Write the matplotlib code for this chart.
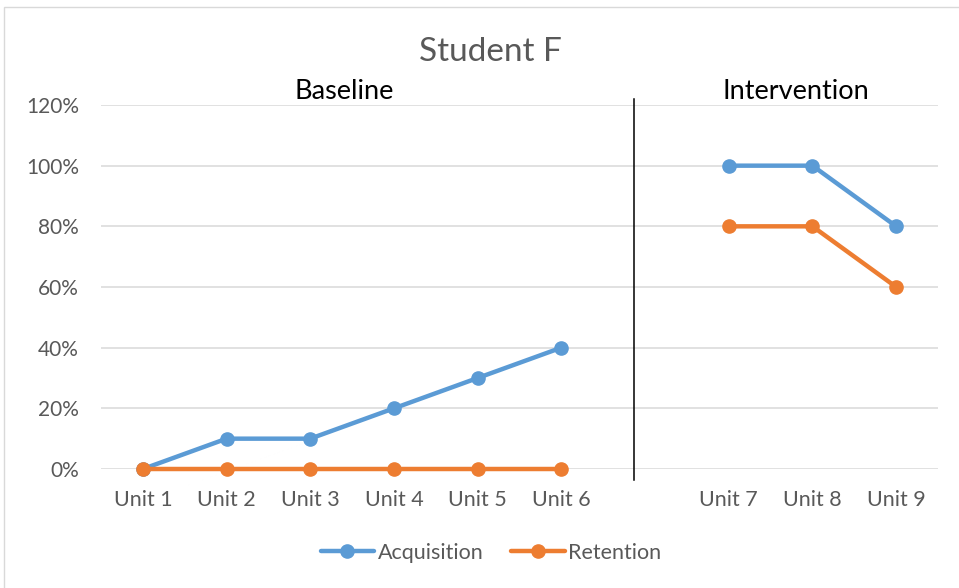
import numpy as np
import matplotlib
matplotlib.use("Agg")
import matplotlib.pyplot as plt
from matplotlib.patches import Rectangle

# category labels; the blank slot separates the two phases
units = ["Unit 1", "Unit 2", "Unit 3", "Unit 4", "Unit 5", "Unit 6", "",
         "Unit 7", "Unit 8", "Unit 9"]
acquisition = [0.0, 0.10, 0.10, 0.20, 0.30, 0.40, np.nan, 1.00, 1.00, 0.80]
retention = [0.0, 0.0, 0.0, 0.0, 0.0, 0.0, np.nan, 0.80, 0.80, 0.60]
yticks = [0.0, 0.2, 0.4, 0.6, 0.8, 1.0, 1.2]

BLUE = "#5B9BD5"
ORANGE = "#ED7D31"
GRAY = "#595959"

plt.rcParams["font.family"] = ["Lato", "DejaVu Sans"]

fig = plt.figure(figsize=(9.59, 5.88), dpi=100)
fig.patches.append(Rectangle((4 / 959, -0.01), 1.0, 1 - 7 / 588 + 0.01,
                             transform=fig.transFigure, fill=False,
                             edgecolor="#D9D9D9", linewidth=1.0))
ax = fig.add_axes([101 / 959, 1 - 469 / 588, 837 / 959, 364 / 588])

x = np.arange(len(units))
ax.plot(x, acquisition, color=BLUE, lw=3.2, marker="o", ms=9.5, label="Acquisition",
        solid_capstyle="round", zorder=3, clip_on=False)
ax.plot(x, retention, color=ORANGE, lw=3.2, marker="o", ms=9.5, label="Retention",
        solid_capstyle="round", zorder=4, clip_on=False)

ax.set_xlim(-0.5, len(units) - 0.5)
ax.set_ylim(0, 1.2)
ax.set_yticks(yticks)
ax.set_yticklabels([f"{int(round(v * 100))}%" for v in yticks])
ax.set_xticks(x)
ax.set_xticklabels(units)
ax.tick_params(axis="both", length=0, colors=GRAY)
ax.tick_params(axis="x", pad=15, labelsize=15.5)
ax.tick_params(axis="y", pad=16, labelsize=15)
for s in ax.spines.values():
    s.set_visible(False)
ax.yaxis.grid(True, color="#D9D9D9", lw=1.1)
ax.set_axisbelow(True)

# phase change line
ax.plot([5.87, 5.87], [-0.036, 1.22], color="black", lw=1.1, clip_on=False, zorder=2)

ax.text(2.4, 1.245, "Baseline", ha="center", va="center", fontsize=19.5, color="black")
ax.text(7.8, 1.245, "Intervention", ha="center", va="center", fontsize=19.5, color="black")
fig.text(490 / 959, 1 - 52 / 588, "Student F", ha="center", va="center",
         fontsize=24, color=GRAY)

fig.legend(loc="center", bbox_to_anchor=(491 / 959, 1 - 553 / 588), ncol=2,
           frameon=False, fontsize=15.5, handlelength=2.5, handletextpad=0.15,
           columnspacing=1.3, labelcolor=GRAY)

fig.savefig("out.png", dpi=100)
